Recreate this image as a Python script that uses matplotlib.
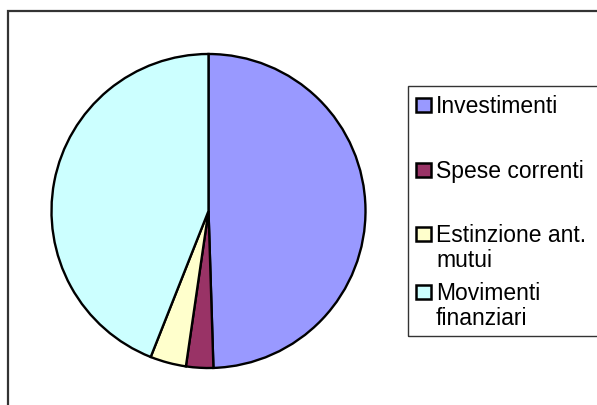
import matplotlib.pyplot as plt
from matplotlib.patches import Rectangle

# pie data (shares)
labels = ['Investimenti', 'Spese correnti', 'Estinzione ant.\nmutui', 'Movimenti\nfinanziari']
values = [49.5, 2.8, 3.7, 44.0]
colors = ['#9999FF', '#993366', '#FFFFCC', '#CCFFFF']

W, H = 597, 405
fig = plt.figure(figsize=(W / 100, H / 100), dpi=100)
plt.rcParams['font.family'] = ['Liberation Sans', 'DejaVu Sans']


# helper: pixel box (from top-left) -> figure fraction
def box(x, y, w, h):
    return [x / W, 1 - (y + h) / H, w / W, h / H]


# outer chart frame (runs off the right/bottom edge)
fig.patches.append(Rectangle((8 / W, -0.1), 1.2, 1 - 11 / H + 0.1,
                             transform=fig.transFigure, fill=False,
                             edgecolor='#333333', linewidth=1.6))

# pie
cx, cy, r = 208.5, 211, 157
ax = fig.add_axes(box(cx - r - 3, cy - r - 3, 2 * r + 6, 2 * r + 6))
ax.pie(values, colors=colors, startangle=90, counterclock=False,
       radius=r / (r + 3),
       wedgeprops=dict(edgecolor='black', linewidth=1.7))
ax.set_xlim(-1, 1)
ax.set_ylim(-1, 1)
ax.set_aspect('auto')
ax.axis('off')

# legend box
fig.patches.append(Rectangle((408 / W, 1 - 336 / H), 1.0, 250 / H,
                             transform=fig.transFigure, fill=False,
                             edgecolor='#333333', linewidth=1.0))

# legend entries (baseline of the first line of each entry, px from top)
rows = [113, 178, 242, 300]
for lab, col, y in zip(labels, colors, rows):
    fig.patches.append(Rectangle((416 / W, 1 - (y - 1) / H), 15 / W, 14 / H,
                                 transform=fig.transFigure, facecolor=col,
                                 edgecolor='black', linewidth=1.8))
    t = fig.text(436 / W, 1 - y / H, lab.split('\n')[0], ha='left',
                 va='baseline', fontsize=16.5)
    if '\n' in lab:
        fig.text(436 / W, 1 - (y + 25) / H, lab.split('\n')[1], ha='left',
                 va='baseline', fontsize=16.5)

fig.savefig('out.png', dpi=100)
